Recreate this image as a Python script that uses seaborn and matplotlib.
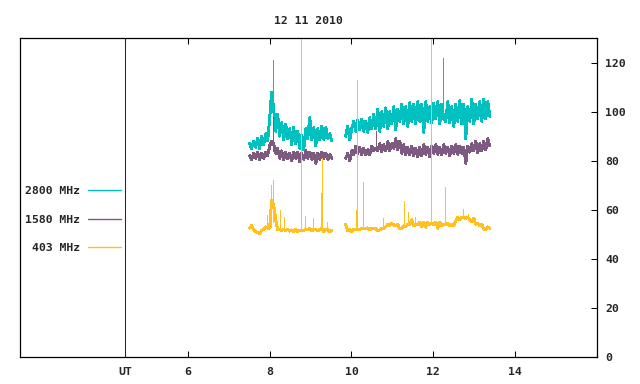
import numpy as np
import pandas as pd
import matplotlib
matplotlib.use("Agg")
import matplotlib.pyplot as plt
from matplotlib.lines import Line2D
import seaborn as sns

# solar radio flux 12 11 2010, two observing runs (UT hours)
t_run1 = np.linspace(7.51, 9.52, 42)
t_run2 = np.linspace(9.86, 13.38, 73)

f2800_run1 = [87, 85, 88, 85.5, 89, 85, 90, 86.5, 91, 88, 97, 108, 101, 92, 99, 90,
              95.5, 88.5, 95, 89, 93, 86.5, 93.5, 87, 92, 85, 90.5, 84.5, 93, 89, 97.5,
              88.5, 93.5, 86, 93, 88.5, 94, 88.6, 93.5, 89, 91, 88]
f2800_run2 = [90, 94, 88.6, 93, 96, 92, 96.5, 92.5, 97, 92, 96, 91.5, 97.5, 93, 99, 93,
              101, 92, 100, 94, 101.5, 93, 100, 95, 102, 92.6, 101, 96, 103, 95, 102, 94,
              103.7, 96, 103, 95, 104, 96, 103, 91.5, 104, 96, 102, 95.5, 103.5, 97, 104,
              95, 103, 97, 96, 104, 95.5, 102, 94, 103, 96, 104.5, 95, 103, 89, 102, 96,
              105, 95, 103, 97, 104, 96, 105, 97, 104, 98]

f1580_run1 = [82, 80.5, 83, 81, 83.5, 80.5, 83, 81, 83.5, 82, 86, 88, 87, 83, 85, 81,
              84, 80.5, 83.5, 80.8, 83, 80, 83.5, 81, 83.5, 79.5, 83, 80.5, 84, 81, 83.5,
              80.5, 83, 79, 83, 80.5, 83.5, 81, 83, 80.5, 82.5, 81]
f1580_run2 = [81, 83, 80, 84, 82.5, 86, 83, 85.5, 82.5, 85, 82.4, 84.5, 82.5, 86, 84, 85,
              84, 87, 83.7, 86.5, 84, 87.8, 84, 87, 85, 89, 84.5, 88, 83, 86.5, 82.4, 85.5,
              82.5, 86, 82, 85, 81.6, 85.5, 82, 86.5, 82.5, 85.5, 81.5, 86, 83, 86.5, 82.5,
              85.5, 82.5, 86.5, 83, 85.5, 82, 86, 83, 86.5, 82.5, 86, 83, 85.5, 79, 86, 83.5,
              87, 84, 88, 83.3, 87, 84, 88, 84.5, 89, 86]

f403_run1 = [52.5, 53.5, 52, 51, 50.8, 50.2, 51.5, 52, 53, 52.5, 52.5, 64, 62, 56, 52, 52,
             51.5, 52, 51.5, 52, 51.3, 51.8, 51, 52, 51.2, 51.5, 51.5, 51.5, 52, 52, 52.5,
             51.5, 52, 52, 51.5, 52, 52.5, 51, 52, 52, 51, 51.5]
f403_run2 = [54, 51.5, 52, 51, 52, 52, 52, 52, 52.3, 52.5, 52.3, 52.6, 51.8, 52.5, 52.3,
             52.6, 51.4, 51.8, 52.5, 52.5, 53, 54, 53.5, 54.5, 53.8, 53.5, 54, 52.2, 52.5,
             53.5, 53, 54, 54, 56, 53.5, 54, 54, 55, 53, 55, 52.8, 55, 54, 54.5, 54, 55, 52.5,
             55, 53.5, 54, 54, 54.5, 53.5, 54, 53.5, 55.5, 57, 56, 57, 57, 56.5, 57,
             56, 55, 56.5, 54, 54.5, 53.6, 54, 52, 51.8, 53, 52.5]

# short bursts, one sample wide: time, foot, peak
spikes = {
    "2800 MHz": ([8.073, 12.232], [100, 97], [121, 122]),
    "1580 MHz": ([8.073, 10.593], [84, 85], [98, 92]),
    "403 MHz": ([7.926, 8.024, 8.073, 8.244, 8.342, 8.757, 8.855, 9.051, 9.247, 9.271,
                 9.394, 10.103, 10.128, 10.275, 10.764, 11.278, 11.376, 11.547, 11.938,
                 12.281, 12.721, 12.844],
                [52, 53, 55, 52, 52, 51.5, 52, 52, 52, 52, 52, 52, 52, 52.5, 52.5, 53.5,
                 54, 54, 54.5, 54, 57, 57],
                [58, 70, 72, 60, 57, 135, 57.5, 56.7, 67, 81, 55, 60, 113, 71.5, 56.7,
                 63.7, 59, 57, 135, 69.4, 60.4, 58.4]),
}

freqs = ["2800 MHz", "1580 MHz", "403 MHz"]
colors = {"2800 MHz": "#00c0c0", "1580 MHz": "#7d5a80", "403 MHz": "#ffc020"}
ut_mark = 4.46

series = {
    "2800 MHz": (f2800_run1, f2800_run2),
    "1580 MHz": (f1580_run1, f1580_run2),
    "403 MHz": (f403_run1, f403_run2),
}
frames = []
for name, (r1, r2) in series.items():
    frames.append(pd.DataFrame({"t": t_run1, "v": r1, "freq": name, "run": 1}))
    frames.append(pd.DataFrame({"t": t_run2, "v": r2, "freq": name, "run": 2}))
df = pd.concat(frames, ignore_index=True)

sns.set_theme(style="white")
plt.rcParams["font.family"] = ["DejaVu Sans Mono"]
plt.rcParams["font.weight"] = "bold"
fs = 8.25

fig = plt.figure(figsize=(6.4, 3.84), dpi=100)
ax = fig.add_axes([20 / 640, 1 - 357 / 384, 577 / 640, 319 / 384])

# draw each band then its bursts so 403 MHz ends up on top
for f in freqs:
    sns.lineplot(data=df[df.freq == f], x="t", y="v", units="run", estimator=None,
                 color=colors[f], linewidth=1.4, antialiased=False, legend=False, ax=ax)
    st, sb, sp = spikes[f]
    ax.vlines(st, sb, sp, color=colors[f], lw=0.5, antialiased=False)
ax.axvline(ut_mark, color="#800000", lw=0.75)

ax.set_xlim(1.9, 16)
ax.set_ylim(0, 130)
ax.set_xticks([ut_mark, 6, 8, 10, 12, 14])
ax.set_xticklabels(["UT", "6", "8", "10", "12", "14"], fontsize=fs, fontweight="bold")
ax.set_yticks([0, 20, 40, 60, 80, 100, 120])
ax.set_yticklabels(["0", "20", "40", "60", "80", "100", "120"], fontsize=fs, fontweight="bold")
ax.yaxis.tick_right()
ax.tick_params(axis="x", direction="in", length=4, width=0.75, top=True, bottom=True,
               color="black", pad=7)
ax.tick_params(axis="y", direction="in", length=4, width=0.75, right=True, left=False,
               labelright=True, labelleft=False, color="black", pad=6)
ax.set_xlabel("")
ax.set_ylabel("")
for s in ax.spines.values():
    s.set_color("black")
    s.set_linewidth(0.9)

ax.set_title("12 11 2010", fontsize=fs, fontweight="bold", pad=10)

handles = [Line2D([], [], color=colors[f], lw=1) for f in freqs]
ax.legend(handles, freqs, loc="upper right", bbox_to_anchor=(121 / 640, 1 - 186 / 384),
          bbox_transform=fig.transFigure, markerfirst=False, frameon=False,
          handlelength=2.9, handletextpad=0.7, labelspacing=1.62, borderpad=0,
          borderaxespad=0, prop={"family": "DejaVu Sans Mono", "weight": "bold", "size": fs})

fig.savefig("out.png", dpi=100)
